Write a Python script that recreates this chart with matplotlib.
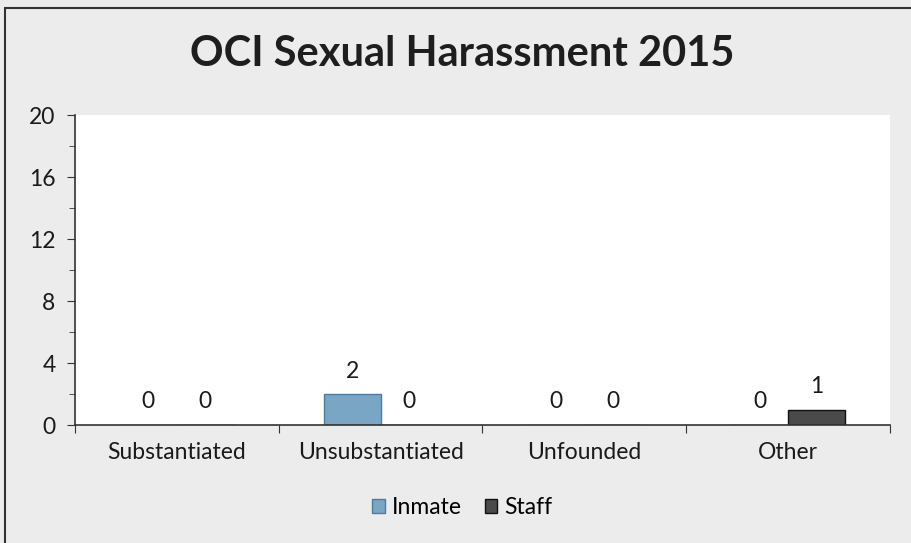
import matplotlib.pyplot as plt
import numpy as np
from matplotlib.patches import Rectangle

categories = ["Substantiated", "Unsubstantiated", "Unfounded", "Other"]
inmate = [0, 2, 0, 0]
staff = [0, 0, 0, 1]

plt.rcParams["font.family"] = ["Lato", "DejaVu Sans"]

fig = plt.figure(figsize=(9.12, 5.43), dpi=100)
fig.patch.set_facecolor("#ececec")
# outer frame of the scanned chart
fig.patches.append(Rectangle((5 / 912, -0.05), 1.1, 1 - 8 / 543 + 0.05,
                             transform=fig.transFigure, fill=False,
                             edgecolor="#333333", linewidth=1.5))

ax = fig.add_axes([75 / 912, 1 - 425 / 543, 815 / 912, 310 / 543])
ax.set_facecolor("white")

x = np.arange(len(categories))
w = 0.28
b1 = ax.bar(x - w / 2, inmate, w, color="#7aa6c6", edgecolor="#4f7c9c",
            linewidth=1, label="Inmate")
b2 = ax.bar(x + w / 2, staff, w, color="#4a4a4a", edgecolor="#111111",
            linewidth=1, label="Staff")
for bars in (b1, b2):
    for r in bars:
        ax.annotate(f"{r.get_height():g}", (r.get_x() + r.get_width() / 2, r.get_height()),
                    xytext=(0, 9), textcoords="offset points",
                    ha="center", va="bottom", fontsize=16.5, color="#1a1a1a")

ax.set_xlim(-0.5, len(categories) - 0.5)
ax.set_ylim(0, 20)
ax.set_yticks(range(0, 21, 4))
ax.set_yticks(range(0, 21, 2), minor=True)
ax.set_xticks(np.arange(-0.5, len(categories), 1))
ax.set_xticklabels([])
ax.set_xticks(x, minor=True)
ax.set_xticklabels(categories, minor=True)
ax.tick_params(axis="x", which="major", length=6, color="#333333")
ax.tick_params(axis="x", which="minor", length=0, pad=12, labelsize=16.5, labelcolor="#1a1a1a")
ax.tick_params(axis="y", which="major", length=6, color="#333333", labelsize=16.5,
               labelcolor="#1a1a1a", pad=8)
ax.tick_params(axis="y", which="minor", length=4, color="#333333")
for s in ("top", "right"):
    ax.spines[s].set_visible(False)
for s in ("left", "bottom"):
    ax.spines[s].set_color("#333333")
    ax.spines[s].set_linewidth(1.2)

fig.text(0.507, 0.9, "OCI Sexual Harassment 2015", ha="center", va="center",
         fontsize=30, fontweight="bold", color="#1e1e1e")

fig.legend(handles=[b1, b2], loc="center", bbox_to_anchor=(0.507, 1 - 508 / 543),
           ncol=2, frameon=False, fontsize=16.5, handlelength=0.55, handleheight=0.55,
           handletextpad=0.3, columnspacing=1.0)

fig.savefig("out.png", dpi=100, facecolor=fig.get_facecolor())
